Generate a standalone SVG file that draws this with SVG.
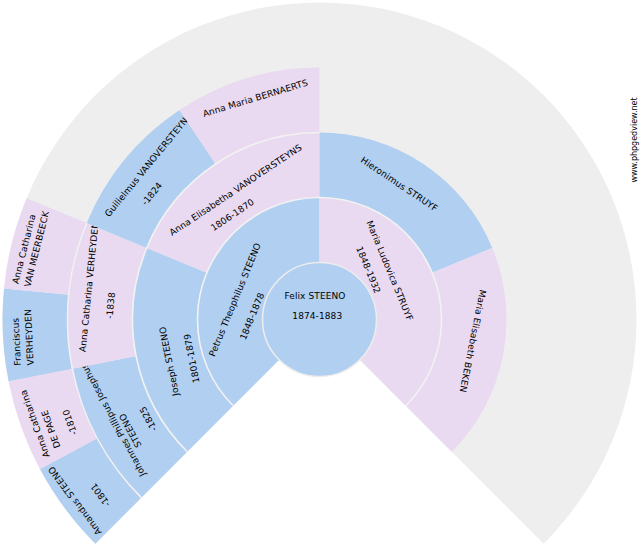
<svg xmlns="http://www.w3.org/2000/svg" width="640" height="550" viewBox="0 0 640 550">
<style>
.m{fill:#b1cff0}
.f{fill:#e9daf1}
.bg{fill:#eeeeee}
.sep{fill:none;stroke:#f2f2f2;stroke-width:1.6}
text{font-family:"DejaVu Sans",Verdana,sans-serif;font-size:9px;fill:#000;letter-spacing:0.1px}
.r{text-anchor:middle;dominant-baseline:central}
.c{text-anchor:middle}
.wm{font-size:8px;text-anchor:middle;dominant-baseline:central;letter-spacing:0}
</style>
<rect width="640" height="550" fill="#ffffff"/>
<path class="bg" d="M319.5,319.5 L95.35,543.65 A317,317 0 1 1 543.65,543.65 Z"/>

<g id="n-amandus">
<path class="m" d="M95.35,543.65 A317,317 0 0 1 39.93,468.93 L97.26,438.29 A252,252 0 0 0 141.31,497.69 Z"/>
<text class="r" transform="translate(75,500.7) rotate(-126.5625)">Amandus STEENO</text>
<text class="r" transform="translate(100.5,495) rotate(-126.5625)">-1801</text>
</g>
<g id="n-depage">
<path class="f" d="M39.93,468.93 A317,317 0 0 1 8.59,381.34 L72.34,368.66 A252,252 0 0 0 97.26,438.29 Z"/>
<text class="r" transform="translate(35,423.7) rotate(-109.6875)">Anna Catharina</text>
<text class="r" transform="translate(51,429) rotate(-109.6875)">DE PAGE</text>
<text class="r" transform="translate(70,422.3) rotate(-109.6875)">-1810</text>
</g>
<g id="n-franciscus">
<path class="m" d="M8.59,381.34 A317,317 0 0 1 4.03,288.43 L68.71,294.8 A252,252 0 0 0 72.34,368.66 Z"/>
<text class="r" transform="translate(16.7,341.7) rotate(-92.8125)">Franciscus</text>
<text class="r" transform="translate(29.3,337.3) rotate(-92.8125)">VERHEYDEN</text>
</g>
<g id="n-vanmeerbeeck">
<path class="f" d="M4.03,288.43 A317,317 0 0 1 26.63,198.19 L86.68,223.06 A252,252 0 0 0 68.71,294.8 Z"/>
<text class="r" transform="translate(24,249) rotate(-75.9375)">Anna Catharina</text>
<text class="r" transform="translate(36.7,249) rotate(-75.9375)">VAN MEERBEECK</text>
</g>

<g id="n-johannes">
<path class="m" d="M141.31,497.69 A252,252 0 0 1 72.34,368.66 L136.09,355.98 A187,187 0 0 0 187.27,451.73 Z"/>
<text class="r" transform="translate(113.3,420) rotate(-118.125)">Johannes Phillipus Josephus</text>
<text class="r" transform="translate(130.5,430.5) rotate(-118.125)">STEENO</text>
<text class="r" transform="translate(148.3,418.8) rotate(-118.125)">-1825</text>
</g>
<g id="n-acverheyden">
<path class="f" d="M72.34,368.66 A252,252 0 0 1 86.68,223.06 L146.73,247.94 A187,187 0 0 0 136.09,355.98 Z"/>
<text class="r" transform="translate(89,287) rotate(-84.375)">Anna Catharina VERHEYDEN</text>
<text class="r" transform="translate(110.7,305.5) rotate(-84.375)">-1838</text>
</g>
<g id="n-guilielmus">
<path class="m" d="M86.68,223.06 A252,252 0 0 1 179.5,109.97 L215.61,164.02 A187,187 0 0 0 146.73,247.94 Z"/>
<text class="r" transform="translate(148.3,165) rotate(-50.625)">Guilielmus VANOVERSTEYNS</text>
<text class="r" transform="translate(152,193.8) rotate(-50.625)">-1824</text>
</g>
<g id="n-bernaerts">
<path class="f" d="M179.5,109.97 A252,252 0 0 1 319.5,67.5 L319.5,132.5 A187,187 0 0 0 215.61,164.02 Z"/>
<text class="r" transform="translate(255.3,98.3) rotate(-16.875)">Anna Maria BERNAERTS</text>
</g>

<g id="n-joseph">
<path class="m" d="M187.27,451.73 A187,187 0 0 1 146.73,247.94 L206.79,272.81 A122,122 0 0 0 233.23,405.77 Z"/>
<text class="r" transform="translate(169.3,361.3) rotate(-101.25)">Joseph STEENO</text>
<text class="r" transform="translate(191.8,358.3) rotate(-101.25)">1801-1879</text>
</g>
<g id="n-annaelisabetha">
<path class="f" d="M146.73,247.94 A187,187 0 0 1 319.5,132.5 L319.5,197.5 A122,122 0 0 0 206.79,272.81 Z"/>
<text class="r" transform="translate(235.7,190) rotate(-33.75)">Anna Elisabetha VANOVERSTEYNS</text>
<text class="r" transform="translate(232.5,215) rotate(-33.75)">1806-1870</text>
</g>
<g id="n-hieronimus">
<path class="m" d="M319.5,132.5 A187,187 0 0 1 492.27,247.94 L432.21,272.81 A122,122 0 0 0 319.5,197.5 Z"/>
<text class="r" transform="translate(399.2,184.2) rotate(33.75)">Hieronimus STRUYF</text>
</g>
<g id="n-beken">
<path class="f" d="M492.27,247.94 A187,187 0 0 1 451.73,451.73 L405.77,405.77 A122,122 0 0 0 432.21,272.81 Z"/>
<text class="r" transform="translate(472.7,341) rotate(101.25)">Maria Elisabeth BEKEN</text>
</g>

<g id="n-petrus">
<path class="m" d="M233.23,405.77 A122,122 0 0 1 319.5,197.5 L319.5,262.5 A57,57 0 0 0 279.19,359.81 Z"/>
<text class="r" transform="translate(235,299.7) rotate(-67.5)">Petrus Theophilus STEENO</text>
<text class="r" transform="translate(252.2,316.3) rotate(-67.5)">1848-1878</text>
</g>
<g id="n-marialudovica">
<path class="f" d="M319.5,197.5 A122,122 0 0 1 405.77,405.77 L359.81,359.81 A57,57 0 0 0 319.5,262.5 Z"/>
<text class="r" transform="translate(389.7,270.8) rotate(67.5)">Maria Ludovica STRUYF</text>
<text class="r" transform="translate(368.3,270) rotate(67.5)">1848-1932</text>
</g>

<g id="connectors">
<path class="sep" d="M233.23,405.77 A122,122 0 1 1 405.77,405.77"/>
<path class="sep" d="M187.27,451.73 A187,187 0 0 1 319.5,132.5"/>
<path class="sep" d="M141.31,497.69 A252,252 0 0 1 86.68,223.06"/>
</g>

<g id="n-felix">
<circle class="m" cx="319.5" cy="319.5" r="57" stroke="#ececec" stroke-width="1.6"/>
<text class="c" x="315" y="298.7">Felix STEENO</text>
<text class="c" x="317.3" y="319.3">1874-1883</text>
</g>

<text class="wm" transform="translate(634.5,140) rotate(-90)">www.phpgedview.net</text>
</svg>
